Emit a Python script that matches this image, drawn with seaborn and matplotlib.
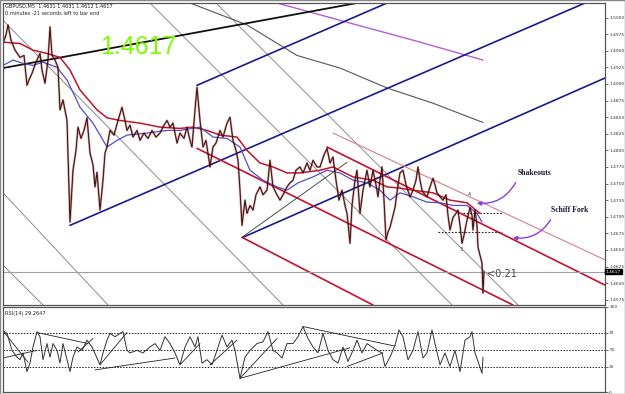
import numpy as np
import pandas as pd
import matplotlib
matplotlib.use("Agg")
import matplotlib.pyplot as plt
import seaborn as sns

# ---------------- data ----------------
bar_x = [3, 6, 8, 11, 15, 20, 24, 27, 29, 32, 36, 40, 42, 45, 48, 50, 52, 55, 58, 60,
         63, 67, 70, 73, 76, 78, 81, 84, 87, 90, 93, 95, 97, 100, 103, 105, 107, 110, 114, 118,
         122, 125, 127, 130, 133, 137, 140, 144, 148, 152, 156, 160, 164, 167, 170, 173, 177, 180, 184, 187,
         190, 192, 195, 197, 200, 203, 206, 210, 213, 216, 220, 223, 227, 230, 233, 236, 238, 240, 242, 245,
         247, 250, 253, 256, 260, 263, 267, 270, 273, 277, 280, 283, 287, 290, 293, 296, 300, 303, 307, 310,
         313, 317, 320, 324, 327, 330, 333, 336, 339, 342, 345, 347, 350, 352, 355, 357, 360, 363, 367, 370,
         373, 376, 378, 380, 382, 384, 386, 388, 390, 393, 395, 398, 400, 403, 406, 410, 413, 416, 418, 420,
         422, 425, 427, 430, 433, 435, 437, 440, 443, 446, 448, 450, 453, 456, 458, 460, 462, 464, 467, 469,
         470, 472, 473, 475, 477, 478, 480, 482, 483, 484]
price = [1.4961, 1.4974, 1.4989, 1.4966, 1.4951, 1.4940, 1.4943, 1.4898, 1.4906, 1.4916, 1.4933, 1.4946, 1.4921, 1.4901, 1.4936, 1.4986, 1.4943, 1.4936, 1.4925, 1.4861,
         1.4876, 1.4845, 1.4692, 1.4770, 1.4800, 1.4835, 1.4818, 1.4830, 1.4849, 1.4796, 1.4778, 1.4745, 1.4767, 1.4710, 1.4755, 1.4796, 1.4805, 1.4830, 1.4823, 1.4845,
         1.4865, 1.4845, 1.4830, 1.4838, 1.4820, 1.4830, 1.4815, 1.4826, 1.4818, 1.4830, 1.4820, 1.4826, 1.4838, 1.4845, 1.4835, 1.4841, 1.4811, 1.4826, 1.4818, 1.4835,
         1.4815, 1.4805, 1.4861, 1.4895, 1.4845, 1.4805, 1.4815, 1.4775, 1.4805, 1.4811, 1.4830, 1.4820, 1.4841, 1.4850, 1.4815, 1.4800, 1.4785, 1.4740, 1.4687, 1.4725,
         1.4705, 1.4717, 1.4710, 1.4733, 1.4745, 1.4733, 1.4740, 1.4785, 1.4745, 1.4733, 1.4725, 1.4733, 1.4745, 1.4751, 1.4755, 1.4770, 1.4775, 1.4766, 1.4781, 1.4770,
         1.4785, 1.4775, 1.4775, 1.4793, 1.4803, 1.4781, 1.4790, 1.4755, 1.4725, 1.4740, 1.4717, 1.4705, 1.4660, 1.4717, 1.4755, 1.4770, 1.4705, 1.4740, 1.4770, 1.4745,
         1.4770, 1.4748, 1.4730, 1.4755, 1.4775, 1.4725, 1.4665, 1.4677, 1.4684, 1.4702, 1.4714, 1.4748, 1.4766, 1.4770, 1.4748, 1.4730, 1.4740, 1.4755, 1.4775, 1.4755,
         1.4740, 1.4733, 1.4730, 1.4745, 1.4758, 1.4748, 1.4736, 1.4730, 1.4725, 1.4733, 1.4702, 1.4680, 1.4699, 1.4705, 1.4710, 1.4687, 1.4660, 1.4672, 1.4695, 1.4707,
         1.4714, 1.4702, 1.4680, 1.4710, 1.4687, 1.4654, 1.4642, 1.4630, 1.4585, 1.4617]

ma_red_x = [3, 20, 33, 47, 60, 70, 80, 97, 107, 120, 140, 160, 180, 193, 207, 220, 237, 247, 260, 273,
            287, 300, 320, 333, 353, 373, 387, 400, 413, 433, 450, 467, 480]
ma_red = [1.4963, 1.4961, 1.4951, 1.4946, 1.4940, 1.4921, 1.4891, 1.4861, 1.4849, 1.4845, 1.4841, 1.4835, 1.4833, 1.4835, 1.4830, 1.4823, 1.4820, 1.4800, 1.4781, 1.4775,
          1.4766, 1.4766, 1.4770, 1.4775, 1.4760, 1.4755, 1.4745, 1.4743, 1.4740, 1.4736, 1.4725, 1.4721, 1.4705]

ma_blue_x = [3, 13, 23, 33, 43, 57, 67, 80, 93, 107, 117, 127, 147, 167, 180, 200, 213, 227, 240, 250,
             263, 277, 287, 298, 313, 327, 340, 353, 367, 380, 390, 400, 413, 427, 440, 453, 467, 477, 482]
ma_blue = [1.4928, 1.4936, 1.4931, 1.4928, 1.4933, 1.4925, 1.4906, 1.4865, 1.4841, 1.4805, 1.4815, 1.4823, 1.4826, 1.4830, 1.4830, 1.4835, 1.4820, 1.4818, 1.4805, 1.4770,
           1.4755, 1.4745, 1.4740, 1.4751, 1.4760, 1.4770, 1.4766, 1.4755, 1.4751, 1.4740, 1.4725, 1.4736, 1.4730, 1.4722, 1.4721, 1.4717, 1.4717, 1.4705, 1.4692]

rsi_x = [3, 7, 12, 17, 20, 23, 27, 30, 33, 37, 40, 43, 47, 50, 53, 57, 60, 63, 67, 70,
         73, 77, 82, 87, 92, 97, 100, 103, 107, 110, 115, 120, 123, 127, 130, 137, 143, 150, 155, 160,
         165, 170, 175, 180, 185, 190, 195, 198, 202, 207, 212, 217, 222, 227, 232, 235, 240, 245, 250, 257,
         263, 268, 273, 277, 282, 287, 293, 298, 303, 308, 313, 318, 323, 328, 333, 338, 343, 348, 353, 357,
         362, 367, 372, 377, 382, 385, 390, 395, 399, 403, 408, 413, 418, 423, 427, 432, 435, 440, 445, 450,
         455, 460, 465, 470, 472, 475, 478, 482, 483]
rsi = [72, 69, 49, 41, 38, 46, 24, 34, 53, 71, 65, 38, 57, 41, 57, 49, 34, 57, 38, 24,
       41, 53, 49, 61, 53, 40, 32, 46, 61, 69, 65, 69, 71, 49, 46, 49, 46, 53, 57, 49,
       65, 57, 46, 32, 53, 65, 53, 65, 34, 38, 32, 49, 67, 53, 61, 49, 16, 41, 49, 57,
       59, 71, 49, 46, 40, 57, 57, 65, 77, 63, 53, 46, 69, 49, 38, 34, 53, 36, 49, 61,
       46, 57, 53, 49, 46, 30, 41, 55, 73, 65, 38, 49, 71, 40, 46, 73, 57, 32, 46, 30,
       49, 24, 61, 65, 71, 46, 36, 22, 41]

# drawn objects: ((bar, price), (bar, price))
black_thick_line = [((3, 1.4924), (357, 1.5022))]
navy_lines = [((197, 1.4898), (387, 1.5022)),
              ((70, 1.4687), (585, 1.5022)),
              ((243, 1.4669), (605, 1.4909))]
pink_lines = [((333, 1.4826), (605, 1.4635))]
red_lines = [((327, 1.4805), (605, 1.4597)),
             ((197, 1.4803), (513, 1.4567)),
             ((242, 1.4669), (373, 1.4567))]
grey_lines = [((3, 1.4996), (283, 1.4567)),
              ((216, 1.5022), (518, 1.4567)),
              ((150, 1.5022), (452, 1.4567)),
              ((3, 1.4736), (108, 1.4567)),
              ((3, 1.4627), (43, 1.4567))]
thin_black_lines = [((242, 1.4669), (347, 1.4782))]
dark_curve_x = [190, 247, 297, 340, 387, 433, 483]
dark_curve = [1.5022, 1.4989, 1.4943, 1.4924, 1.4894, 1.4871, 1.4842]
purple_curve_x = [277, 347, 413, 483]
purple_curve = [1.5022, 1.4993, 1.4966, 1.4936]
dotted_levels = [(463, 502, 1.4705), (438, 502, 1.4677)]
current_price = 1.4617

rsi_lines = [((3, 72), (28, 35)), ((3, 40), (37, 49)), ((37, 70), (88, 57)),
             ((78, 47), (93, 63)), ((95, 26), (175, 40)), ((100, 32), (127, 70)),
             ((180, 32), (200, 57)), ((210, 32), (237, 61)), ((240, 16), (277, 63)),
             ((240, 16), (350, 52)), ((303, 77), (395, 54)), ((347, 30), (383, 46))]

price_ticks = [1.4575, 1.4600, 1.4625, 1.4650, 1.4675, 1.4700, 1.4725, 1.4750, 1.4775, 1.4800,
               1.4825, 1.4850, 1.4875, 1.4900, 1.4925, 1.4950, 1.4975, 1.5000]
rsi_ticks = [0, 30, 50, 70, 100]

# ---------------- drawing ----------------
sns.set_theme(style="white")
plt.rcParams["font.family"] = ["DejaVu Sans"]

fig = plt.figure(figsize=(6.25, 3.94), dpi=100)
ax = fig.add_axes([3 / 625, 89 / 394, 602 / 625, 302 / 394])
ax2 = fig.add_axes([3 / 625, 2 / 394, 602 / 625, 85 / 394])

df_price = pd.DataFrame({"bar": bar_x, "price": price})
df_red = pd.DataFrame({"bar": ma_red_x, "ma": ma_red})
df_blue = pd.DataFrame({"bar": ma_blue_x, "ma": ma_blue})
df_rsi = pd.DataFrame({"bar": rsi_x, "rsi": rsi})

# drawn objects first (behind price)
for (x0, y0), (x1, y1) in grey_lines:
    ax.plot([x0, x1], [y0, y1], color="#8c8c8c", lw=0.7)
sns.lineplot(x=dark_curve_x, y=dark_curve, ax=ax, color="#555555", lw=0.8, estimator=None)
sns.lineplot(x=purple_curve_x, y=purple_curve, ax=ax, color="#b45fd2", lw=1.0, estimator=None)
for (x0, y0), (x1, y1) in black_thick_line:
    ax.plot([x0, x1], [y0, y1], color="#111111", lw=1.3)
for (x0, y0), (x1, y1) in navy_lines:
    ax.plot([x0, x1], [y0, y1], color="#1a1a8c", lw=1.2)
for (x0, y0), (x1, y1) in pink_lines:
    ax.plot([x0, x1], [y0, y1], color="#d77f8f", lw=0.8)
for (x0, y0), (x1, y1) in red_lines:
    ax.plot([x0, x1], [y0, y1], color="#c8102e", lw=1.2)
for (x0, y0), (x1, y1) in thin_black_lines:
    ax.plot([x0, x1], [y0, y1], color="#333333", lw=0.6)
for x0, x1, lvl in dotted_levels:
    ax.plot([x0, x1], [lvl, lvl], color="#222222", lw=0.8, ls=(0, (1.5, 1.5)))
ax.axhline(current_price, color="#a0a0a0", lw=0.8)

sns.lineplot(data=df_red, x="bar", y="ma", ax=ax, color="#c0142c", lw=1.1, estimator=None)
sns.lineplot(data=df_blue, x="bar", y="ma", ax=ax, color="#5050c8", lw=0.9, estimator=None)
sns.lineplot(data=df_price, x="bar", y="price", ax=ax, color="#8a1818", lw=1.5, estimator=None, alpha=0.5)
sns.lineplot(data=df_price, x="bar", y="price", ax=ax, color="#2a0606", lw=0.6, estimator=None)

ax.set_xlim(3, 605)
ax.set_ylim(1.4567, 1.5022)
ax.set_xlabel("")
ax.set_ylabel("")
ax.set_xticks([])
ax.yaxis.tick_right()
ax.set_yticks(price_ticks)
ax.set_yticklabels([f"{t:.4f}" for t in price_ticks])
ax.tick_params(axis="y", right=True, length=2, width=0.5, labelsize=3.2, pad=1.0, colors="#333333")
for s in ax.spines.values():
    s.set_color("#555555")
    s.set_linewidth(0.9)

# texts
ax.text(138, 1.4955, "1.4617", color="#7CFC00", fontsize=18, ha="center", va="center",
        family=["Liberation Sans", "DejaVu Sans"])
ax.text(5, 1.5017, "GBPUSD,M5  1.4631 1.4631 1.4612 1.4617", fontsize=3.6, va="center", color="#222222")
ax.text(5, 1.5006, "0 minutes -21 seconds left to bar end", fontsize=3.6, va="center", color="#222222")
ax.text(535, 1.4766, "Shakeouts", fontsize=5.6, weight="bold", ha="center", va="center",
        color="#1a1a3a", family=["Liberation Serif", "DejaVu Serif"])
ax.text(570, 1.4710, "Schiff Fork", fontsize=5.6, weight="bold", ha="center", va="center",
        color="#1a1a3a", family=["Liberation Serif", "DejaVu Serif"])
ax.text(469, 1.4733, "4", fontsize=3.5, ha="center", va="center", color="#333333")
ax.text(461, 1.4650, "3", fontsize=3.5, ha="center", va="center", color="#333333")
ax.text(487, 1.4614, "<0:21", fontsize=7, ha="left", va="center", color="#444444")
ax.annotate("", xy=(474, 1.4721), xytext=(517, 1.4755),
            arrowprops=dict(arrowstyle="-|>", color="#8a3fd6", lw=1.0, mutation_scale=6,
                            connectionstyle="arc3,rad=-0.35"))
ax.annotate("", xy=(510, 1.4669), xytext=(552, 1.4699),
            arrowprops=dict(arrowstyle="-|>", color="#8a3fd6", lw=1.0, mutation_scale=6,
                            connectionstyle="arc3,rad=-0.35"))
ax.text(606, current_price, "1.4617", fontsize=3.2, color="white", va="center", ha="left",
        bbox=dict(boxstyle="square,pad=0.12", fc="black", ec="black"), clip_on=False)

# RSI panel
for lvl in [30, 50, 70]:
    ax2.axhline(lvl, color="#222222", lw=0.7, ls=(0, (1.5, 1.5)))
for (x0, y0), (x1, y1) in rsi_lines:
    ax2.plot([x0, x1], [y0, y1], color="#222222", lw=0.6)
sns.lineplot(data=df_rsi, x="bar", y="rsi", ax=ax2, color="#333333", lw=0.7, estimator=None)
ax2.set_xlim(3, 605)
ax2.set_ylim(0, 100)
ax2.set_xlabel("")
ax2.set_ylabel("")
ax2.set_xticks([])
ax2.yaxis.tick_right()
ax2.set_yticks(rsi_ticks)
ax2.set_yticklabels([str(t) for t in rsi_ticks])
ax2.tick_params(axis="y", right=True, length=2, width=0.5, labelsize=3.2, pad=1.0, colors="#333333")
for s in ax2.spines.values():
    s.set_color("#555555")
    s.set_linewidth(0.9)
ax2.text(5, 95, "RSI(14) 29.2647", fontsize=3.6, va="top", color="#222222")

fig.patches.append(plt.Rectangle((0, 0), 1, 1, transform=fig.transFigure, fill=False,
                                 ec="#888888", lw=1.0))
fig.savefig("out.png", dpi=100)
